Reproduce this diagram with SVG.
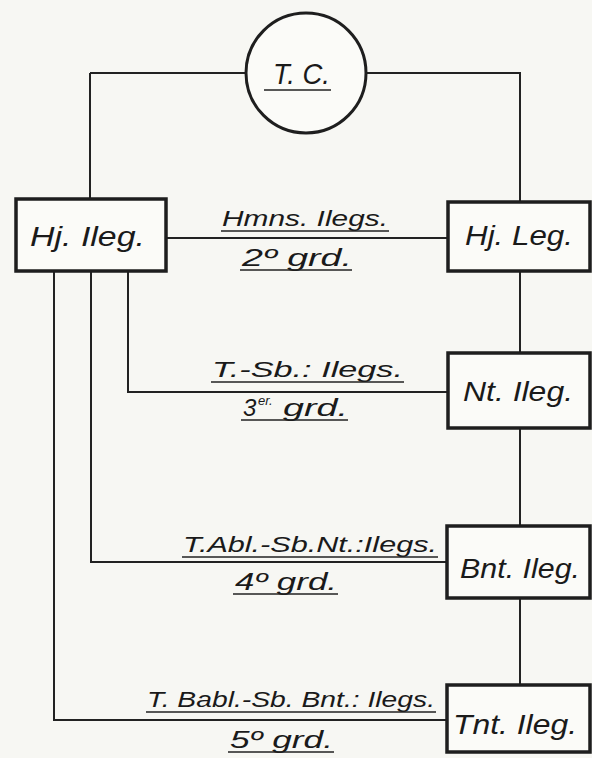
<svg xmlns="http://www.w3.org/2000/svg" width="592" height="758" viewBox="0 0 592 758">
<style>
.bg{fill:#f7f7f3}
.box{fill:#fbfbf8;stroke:#1e1e1e;stroke-width:3.5}
.ln{fill:none;stroke:#222;stroke-width:2}
.ul{stroke:#222;stroke-width:1.6}
.t{font-family:"Liberation Sans","DejaVu Sans",sans-serif;font-style:italic;fill:#1a1a1a}
.n{font-size:28px}
.l{font-size:22px}
.s{font-size:24px}
.sup{font-size:13px}
</style>
<rect class="bg" x="0" y="0" width="592" height="758"/>
<g id="connectors">
<path class="ln" d="M90 73 H246 M366 73 H520 V202"/>
<path class="ln" d="M90 73 V199"/>
<path class="ln" d="M166 238 H448"/>
<path class="ln" d="M520 271 V353 M520 428 V526 M520 598 V685"/>
<path class="ln" d="M128 271 V392 H448"/>
<path class="ln" d="M91 271 V562 H447"/>
<path class="ln" d="M54 271 V720 H447"/>
</g>
<g id="tc">
<circle cx="306" cy="73" r="60" fill="#fbfbf8" stroke="#1e1e1e" stroke-width="3"/>
<text class="t" x="273" y="84" font-size="30" textLength="57" lengthAdjust="spacingAndGlyphs">T. C.</text>
<line class="ul" x1="264" y1="90" x2="331" y2="90"/>
</g>
<g id="hj-ileg">
<rect class="box" x="16" y="199" width="150" height="72"/>
<text class="t n" x="30" y="246" textLength="115" lengthAdjust="spacingAndGlyphs">Hj. Ileg.</text>
</g>
<g id="hj-leg">
<rect class="box" x="448" y="202" width="142" height="69"/>
<text class="t n" x="465" y="245" textLength="108" lengthAdjust="spacingAndGlyphs">Hj. Leg.</text>
</g>
<g id="nt-ileg">
<rect class="box" x="448" y="353" width="142" height="75"/>
<text class="t n" x="463" y="401" textLength="110" lengthAdjust="spacingAndGlyphs">Nt. Ileg.</text>
</g>
<g id="bnt-ileg">
<rect class="box" x="447" y="526" width="143" height="72"/>
<text class="t n" x="460" y="578" textLength="120" lengthAdjust="spacingAndGlyphs">Bnt. Ileg.</text>
</g>
<g id="tnt-ileg">
<rect class="box" x="447" y="685" width="143" height="67"/>
<text class="t n" x="453" y="734" textLength="124" lengthAdjust="spacingAndGlyphs">Tnt. Ileg.</text>
</g>
<g id="labels">
<text class="t l" x="222" y="226" textLength="166" lengthAdjust="spacingAndGlyphs">Hmns. Ilegs.</text>
<line class="ul" x1="221" y1="231" x2="389" y2="231"/>
<text class="t s" x="242" y="266" textLength="110" lengthAdjust="spacingAndGlyphs">2º grd.</text>
<line class="ul" x1="240" y1="270" x2="352" y2="270"/>

<text class="t l" x="212" y="377" textLength="191" lengthAdjust="spacingAndGlyphs">T.-Sb.: Ilegs.</text>
<line class="ul" x1="211" y1="382" x2="404" y2="382"/>
<text class="t s" x="243" y="416">3</text>
<text class="t sup" x="258" y="405">er.</text>
<text class="t s" x="283" y="416" textLength="65" lengthAdjust="spacingAndGlyphs">grd.</text>
<line class="ul" x1="241" y1="420" x2="348" y2="420"/>

<text class="t l" x="183" y="552" textLength="254" lengthAdjust="spacingAndGlyphs">T.Abl.-Sb.Nt.:Ilegs.</text>
<line class="ul" x1="182" y1="557" x2="438" y2="557"/>
<text class="t s" x="235" y="590" textLength="102" lengthAdjust="spacingAndGlyphs">4º grd.</text>
<line class="ul" x1="233" y1="594" x2="338" y2="594"/>

<text class="t l" x="147" y="707" textLength="288" lengthAdjust="spacingAndGlyphs">T. Babl.-Sb. Bnt.: Ilegs.</text>
<line class="ul" x1="146" y1="712" x2="436" y2="712"/>
<text class="t s" x="230" y="748" textLength="103" lengthAdjust="spacingAndGlyphs">5º grd.</text>
<line class="ul" x1="228" y1="752" x2="334" y2="752"/>
</g>
</svg>
